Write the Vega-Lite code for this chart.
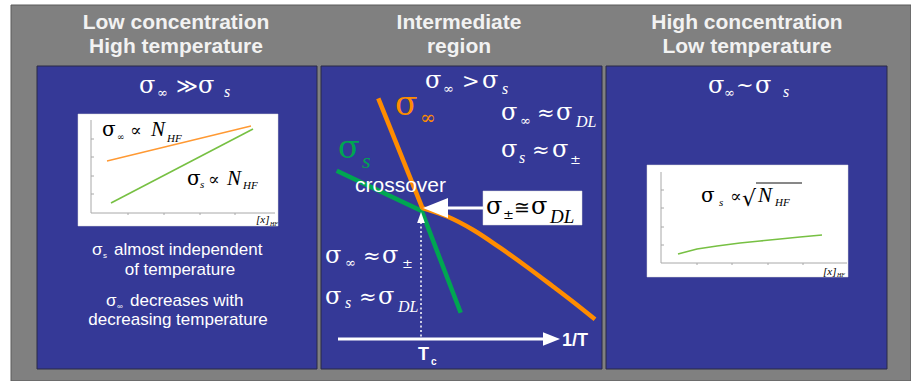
{
 "$schema": "https://vega.github.io/schema/vega-lite/v6.json",
 "width": 911, "height": 381, "padding": 0, "autosize": {"type": "none"},
 "background": "#ffffff",
 "config": {"view": {"stroke": null}},
 "datasets": {
  "boxes": [
   {"id": "frame", "x": 11, "y": 5, "x2": 911, "y2": 381},
   {"id": "panel", "x": 37, "y": 66, "x2": 317, "y2": 369},
   {"id": "panel", "x": 321, "y": 66, "x2": 602, "y2": 369},
   {"id": "panel", "x": 606, "y": 66, "x2": 887, "y2": 369},
   {"id": "white", "x": 78, "y": 114, "x2": 278, "y2": 226},
   {"id": "white", "x": 647, "y": 165, "x2": 848, "y2": 277},
   {"id": "white", "x": 483, "y": 191, "x2": 582, "y2": 225}
  ],
  "segs": [
   {"k": "ax", "x": 91, "y": 120, "x2": 91, "y2": 213},
   {"k": "ax", "x": 91, "y": 213, "x2": 275, "y2": 213},
   {"k": "ax", "x": 661, "y": 172, "x2": 661, "y2": 263},
   {"k": "ax", "x": 661, "y": 263, "x2": 847, "y2": 263},
   {"k": "ax", "x": 91, "y": 139, "x2": 94, "y2": 139},
   {"k": "ax", "x": 91, "y": 157, "x2": 94, "y2": 157},
   {"k": "ax", "x": 91, "y": 176, "x2": 94, "y2": 176},
   {"k": "ax", "x": 91, "y": 194, "x2": 94, "y2": 194},
   {"k": "ax", "x": 128, "y": 213, "x2": 128, "y2": 215},
   {"k": "ax", "x": 164, "y": 213, "x2": 164, "y2": 215},
   {"k": "ax", "x": 200, "y": 213, "x2": 200, "y2": 215},
   {"k": "ax", "x": 235, "y": 213, "x2": 235, "y2": 215},
   {"k": "ax", "x": 661, "y": 190, "x2": 664, "y2": 190},
   {"k": "ax", "x": 661, "y": 208, "x2": 664, "y2": 208},
   {"k": "ax", "x": 661, "y": 227, "x2": 664, "y2": 227},
   {"k": "ax", "x": 661, "y": 245, "x2": 664, "y2": 245},
   {"k": "ax", "x": 697, "y": 263, "x2": 697, "y2": 265},
   {"k": "ax", "x": 732, "y": 263, "x2": 732, "y2": 265},
   {"k": "ax", "x": 768, "y": 263, "x2": 768, "y2": 265},
   {"k": "ax", "x": 803, "y": 263, "x2": 803, "y2": 265},
   {"k": "shaft", "x": 483, "y": 208, "x2": 445, "y2": 208},
   {"k": "shaft", "x": 338, "y": 339, "x2": 546, "y2": 339},
   {"k": "dot", "x": 421, "y": 222, "x2": 421, "y2": 338},
   {"k": "bar", "x": 756, "y": 183, "x2": 802, "y2": 183}
  ],
  "curves": [
   {"id": "oTop", "o": 0, "x": 378.3, "y": 98.3},
   {"id": "oTop", "o": 1, "x": 422.5, "y": 208.3},
   {"id": "oLow", "o": 0, "x": 421.7, "y": 207.8},
   {"id": "oLow", "o": 1, "x": 446.7, "y": 216.3},
   {"id": "oLow", "o": 2, "x": 473.3, "y": 230},
   {"id": "oLow", "o": 3, "x": 500, "y": 247.7},
   {"id": "oLow", "o": 4, "x": 526.7, "y": 266.7},
   {"id": "oLow", "o": 5, "x": 553.3, "y": 286.7},
   {"id": "oLow", "o": 6, "x": 573.3, "y": 302},
   {"id": "oLow", "o": 7, "x": 595, "y": 319.3},
   {"id": "gMain", "o": 0, "x": 336.7, "y": 170.7},
   {"id": "gMain", "o": 1, "x": 421.7, "y": 211},
   {"id": "gMain", "o": 2, "x": 460.7, "y": 312.7},
   {"id": "oIn", "o": 0, "x": 107, "y": 161},
   {"id": "oIn", "o": 1, "x": 251, "y": 126},
   {"id": "gIn", "o": 0, "x": 111, "y": 203},
   {"id": "gIn", "o": 1, "x": 253, "y": 129},
   {"id": "gR", "o": 0, "x": 678, "y": 254},
   {"id": "gR", "o": 1, "x": 697, "y": 249},
   {"id": "gR", "o": 2, "x": 717, "y": 246},
   {"id": "gR", "o": 3, "x": 740, "y": 243},
   {"id": "gR", "o": 4, "x": 760, "y": 241},
   {"id": "gR", "o": 5, "x": 780, "y": 239},
   {"id": "gR", "o": 6, "x": 800, "y": 237},
   {"id": "gR", "o": 7, "x": 822, "y": 235}
  ],
  "heads": [
   {"id": "L", "x": 423, "y": 208},
   {"id": "U", "x": 421, "y": 212},
   {"id": "R", "x": 560, "y": 339}
  ],
  "texts": [
   {"r": "hdr", "t": "Low concentration", "x": 176, "y": 29},
   {"r": "hdr", "t": "High temperature", "x": 176, "y": 53},
   {"r": "hdr", "t": "Intermediate", "x": 459, "y": 29},
   {"r": "hdr", "t": "region", "x": 459, "y": 53},
   {"r": "hdr", "t": "High concentration", "x": 747, "y": 29},
   {"r": "hdr", "t": "Low temperature", "x": 747, "y": 53},
   {"r": "mW", "t": "σ", "x": 139, "y": 93},
   {"r": "mWs", "t": "≫", "x": 176, "y": 93},
   {"r": "mW", "t": "σ", "x": 198, "y": 93},
   {"r": "mW", "t": "σ", "x": 425, "y": 88},
   {"r": "mWs", "t": ">", "x": 462, "y": 88},
   {"r": "mW", "t": "σ", "x": 482, "y": 88},
   {"r": "mW", "t": "σ", "x": 501, "y": 120},
   {"r": "mWs", "t": "≈", "x": 537, "y": 120},
   {"r": "mW", "t": "σ", "x": 556, "y": 120},
   {"r": "mW", "t": "σ", "x": 501, "y": 157},
   {"r": "mWs", "t": "≈", "x": 532, "y": 157},
   {"r": "mW", "t": "σ", "x": 552, "y": 157},
   {"r": "mW", "t": "σ", "x": 325, "y": 263},
   {"r": "mWs", "t": "≈", "x": 363, "y": 263},
   {"r": "mW", "t": "σ", "x": 382, "y": 263},
   {"r": "mW", "t": "σ", "x": 325, "y": 304},
   {"r": "mWs", "t": "≈", "x": 359, "y": 304},
   {"r": "mW", "t": "σ", "x": 378, "y": 304},
   {"r": "mW", "t": "σ", "x": 708, "y": 93},
   {"r": "mWs", "t": "~", "x": 736, "y": 92},
   {"r": "mW", "t": "σ", "x": 755, "y": 93},
   {"r": "sW", "t": "∞", "x": 724, "y": 97},
   {"r": "sW", "t": "∞", "x": 157, "y": 97},
   {"r": "sW", "t": "∞", "x": 443, "y": 93},
   {"r": "sW", "t": "∞", "x": 520, "y": 125},
   {"r": "sW", "t": "±", "x": 570, "y": 164},
   {"r": "sW", "t": "∞", "x": 345, "y": 267},
   {"r": "sW", "t": "±", "x": 402, "y": 268},
   {"r": "siW", "t": "s", "x": 224, "y": 97},
   {"r": "siW", "t": "s", "x": 502, "y": 94},
   {"r": "siW", "t": "DL", "x": 576, "y": 127},
   {"r": "siW", "t": "s", "x": 519, "y": 163},
   {"r": "siW", "t": "s", "x": 345, "y": 308},
   {"r": "siW", "t": "DL", "x": 398, "y": 312},
   {"r": "siW", "t": "s", "x": 783, "y": 97},
   {"r": "mK", "t": "σ", "x": 486, "y": 214},
   {"r": "mKs", "t": "≅", "x": 514, "y": 214},
   {"r": "mK", "t": "σ", "x": 531, "y": 214},
   {"r": "sK", "t": "±", "x": 503, "y": 219},
   {"r": "siK", "t": "DL", "x": 550, "y": 223},
   {"r": "bO", "t": "σ", "x": 395, "y": 115},
   {"r": "sO", "t": "∞", "x": 420, "y": 124},
   {"r": "bG", "t": "σ", "x": 338, "y": 158},
   {"r": "siG", "t": "s", "x": 362, "y": 168},
   {"r": "cross", "t": "crossover", "x": 355, "y": 192},
   {"r": "ax", "t": "1/T", "x": 562, "y": 346},
   {"r": "ax", "t": "T", "x": 418, "y": 360},
   {"r": "axS", "t": "c", "x": 431, "y": 365},
   {"r": "bodyL", "t": "σ", "x": 92, "y": 255},
   {"r": "bodyL", "t": "almost independent", "x": 114, "y": 255},
   {"r": "bodyL", "t": "σ", "x": 106, "y": 306},
   {"r": "bodyL", "t": "decreases with", "x": 130, "y": 306},
   {"r": "bodyS", "t": "s", "x": 103, "y": 258},
   {"r": "bodyS", "t": "∞", "x": 117, "y": 309},
   {"r": "bodyC", "t": "of temperature", "x": 180, "y": 275},
   {"r": "bodyC", "t": "decreasing temperature", "x": 178, "y": 325},
   {"r": "iM", "t": "σ", "x": 102, "y": 136},
   {"r": "iMs", "t": "∝", "x": 130, "y": 136},
   {"r": "iM", "t": "σ", "x": 187, "y": 185},
   {"r": "iMs", "t": "∝", "x": 208, "y": 185},
   {"r": "iM", "t": "σ", "x": 701, "y": 202},
   {"r": "iMs", "t": "∝", "x": 730, "y": 202},
   {"r": "iN", "t": "N", "x": 151, "y": 136},
   {"r": "iN", "t": "N", "x": 227, "y": 185},
   {"r": "iN", "t": "N", "x": 758, "y": 202},
   {"r": "iS", "t": "∞", "x": 117, "y": 140},
   {"r": "iSi", "t": "HF", "x": 167, "y": 142},
   {"r": "iSi", "t": "s", "x": 200, "y": 188},
   {"r": "iSi", "t": "HF", "x": 243, "y": 189},
   {"r": "iSi", "t": "s", "x": 719, "y": 206},
   {"r": "iSi", "t": "HF", "x": 775, "y": 206},
   {"r": "iRt", "t": "√", "x": 742, "y": 206},
   {"r": "iX", "t": "[x]", "x": 256, "y": 223},
   {"r": "iX", "t": "[x]", "x": 823, "y": 275},
   {"r": "iXs", "t": "HF", "x": 270, "y": 226},
   {"r": "iXs", "t": "HF", "x": 837, "y": 277}
  ]
 },
 "encoding": {
  "x": {"field": "x", "type": "quantitative", "scale": {"domain": [0, 911], "nice": false, "zero": false}, "axis": null},
  "y": {"field": "y", "type": "quantitative", "scale": {"domain": [0, 381], "nice": false, "zero": false, "reverse": true}, "axis": null}
 },
 "layer": [
  {"data": {"name": "boxes"}, "transform": [{"filter": "datum.id == 'frame'"}],
   "mark": {"type": "rect", "fill": "#808080", "stroke": "#5a5a5a", "strokeWidth": 1},
   "encoding": {"x2": {"field": "x2"}, "y2": {"field": "y2"}}},
  {"data": {"name": "boxes"}, "transform": [{"filter": "datum.id == 'panel'"}],
   "mark": {"type": "rect", "fill": "#353997", "stroke": "#2b2b45", "strokeWidth": 1},
   "encoding": {"x2": {"field": "x2"}, "y2": {"field": "y2"}}},
  {"data": {"name": "boxes"}, "transform": [{"filter": "datum.id == 'white'"}],
   "mark": {"type": "rect", "fill": "#ffffff", "stroke": "#d8d8d8", "strokeWidth": 0.5},
   "encoding": {"x2": {"field": "x2"}, "y2": {"field": "y2"}}},
  {"data": {"name": "segs"}, "transform": [{"filter": "datum.k == 'ax'"}],
   "mark": {"type": "rule", "color": "#a8a8a8", "strokeWidth": 1},
   "encoding": {"x2": {"field": "x2"}, "y2": {"field": "y2"}}},
  {"data": {"name": "segs"}, "transform": [{"filter": "datum.k == 'bar'"}],
   "mark": {"type": "rule", "color": "#111111", "strokeWidth": 1},
   "encoding": {"x2": {"field": "x2"}, "y2": {"field": "y2"}}},
  {"data": {"name": "curves"}, "transform": [{"filter": "datum.id == 'oIn'"}],
   "mark": {"type": "line", "color": "#ff9933", "strokeWidth": 1.3},
   "encoding": {"order": {"field": "o"}}},
  {"data": {"name": "curves"}, "transform": [{"filter": "datum.id == 'gIn' || datum.id == 'gR'"}],
   "mark": {"type": "line", "color": "#77c043", "strokeWidth": 1.6},
   "encoding": {"order": {"field": "o"}, "detail": {"field": "id"}}},
  {"data": {"name": "curves"}, "transform": [{"filter": "datum.id == 'gMain'"}],
   "mark": {"type": "line", "color": "#00a651", "strokeWidth": 4.5, "strokeCap": "butt"},
   "encoding": {"order": {"field": "o"}}},
  {"data": {"name": "curves"}, "transform": [{"filter": "datum.id == 'oTop'"}],
   "mark": {"type": "line", "color": "#ff8c00", "strokeWidth": 4.5, "strokeCap": "butt"},
   "encoding": {"order": {"field": "o"}}},
  {"data": {"name": "curves"}, "transform": [{"filter": "datum.id == 'oLow'"}],
   "mark": {"type": "line", "color": "#ff8c00", "strokeWidth": 4.5, "strokeCap": "butt", "interpolate": "monotone"},
   "encoding": {"order": {"field": "o"}}},
  {"data": {"name": "segs"}, "transform": [{"filter": "datum.k == 'shaft'"}],
   "mark": {"type": "rule", "color": "#ffffff", "strokeWidth": 3},
   "encoding": {"x2": {"field": "x2"}, "y2": {"field": "y2"}}},
  {"data": {"name": "segs"}, "transform": [{"filter": "datum.k == 'dot'"}],
   "mark": {"type": "rule", "color": "#ffffff", "strokeWidth": 1.5, "strokeDash": [2, 2.5]},
   "encoding": {"x2": {"field": "x2"}, "y2": {"field": "y2"}}},
  {"data": {"name": "heads"}, "transform": [{"filter": "datum.id == 'L'"}],
   "mark": {"type": "point", "shape": "M0,0L2,-0.8L2,0.8Z", "size": 625, "filled": true, "color": "#ffffff", "opacity": 1, "strokeWidth": 0}},
  {"data": {"name": "heads"}, "transform": [{"filter": "datum.id == 'U'"}],
   "mark": {"type": "point", "shape": "M0,0L-0.7,2L0.7,2Z", "size": 121, "filled": true, "color": "#ffffff", "opacity": 1, "strokeWidth": 0}},
  {"data": {"name": "heads"}, "transform": [{"filter": "datum.id == 'R'"}],
   "mark": {"type": "point", "shape": "M0,0L-2,-0.8L-2,0.8Z", "size": 289, "filled": true, "color": "#ffffff", "opacity": 1, "strokeWidth": 0}},
  {"data": {"name": "texts"}, "transform": [{"filter": "datum.r == 'hdr'"}],
   "mark": {"type": "text", "font": "Liberation Sans", "fontSize": 21, "fontWeight": "bold", "color": "#f2f2f2", "align": "center", "baseline": "alphabetic"},
   "encoding": {"text": {"field": "t"}}},
  {"data": {"name": "texts"}, "transform": [{"filter": "datum.r == 'mW'"}],
   "mark": {"type": "text", "font": "DejaVu Serif", "fontSize": 24, "color": "#ffffff", "align": "left", "baseline": "alphabetic"},
   "encoding": {"text": {"field": "t"}}},
  {"data": {"name": "texts"}, "transform": [{"filter": "datum.r == 'mWs'"}],
   "mark": {"type": "text", "font": "DejaVu Serif", "fontSize": 21, "color": "#ffffff", "align": "left", "baseline": "alphabetic"},
   "encoding": {"text": {"field": "t"}}},
  {"data": {"name": "texts"}, "transform": [{"filter": "datum.r == 'sW'"}],
   "mark": {"type": "text", "font": "DejaVu Serif", "fontSize": 13, "color": "#ffffff", "align": "left", "baseline": "alphabetic"},
   "encoding": {"text": {"field": "t"}}},
  {"data": {"name": "texts"}, "transform": [{"filter": "datum.r == 'siW'"}],
   "mark": {"type": "text", "font": "Liberation Serif", "fontSize": 16, "fontStyle": "italic", "color": "#ffffff", "align": "left", "baseline": "alphabetic"},
   "encoding": {"text": {"field": "t"}}},
  {"data": {"name": "texts"}, "transform": [{"filter": "datum.r == 'mK'"}],
   "mark": {"type": "text", "font": "DejaVu Serif", "fontSize": 24, "color": "#000000", "align": "left", "baseline": "alphabetic"},
   "encoding": {"text": {"field": "t"}}},
  {"data": {"name": "texts"}, "transform": [{"filter": "datum.r == 'mKs'"}],
   "mark": {"type": "text", "font": "DejaVu Serif", "fontSize": 19, "color": "#000000", "align": "left", "baseline": "alphabetic"},
   "encoding": {"text": {"field": "t"}}},
  {"data": {"name": "texts"}, "transform": [{"filter": "datum.r == 'sK'"}],
   "mark": {"type": "text", "font": "DejaVu Serif", "fontSize": 13, "color": "#000000", "align": "left", "baseline": "alphabetic"},
   "encoding": {"text": {"field": "t"}}},
  {"data": {"name": "texts"}, "transform": [{"filter": "datum.r == 'siK'"}],
   "mark": {"type": "text", "font": "Liberation Serif", "fontSize": 19, "fontStyle": "italic", "color": "#000000", "align": "left", "baseline": "alphabetic"},
   "encoding": {"text": {"field": "t"}}},
  {"data": {"name": "texts"}, "transform": [{"filter": "datum.r == 'bO'"}],
   "mark": {"type": "text", "font": "DejaVu Serif", "fontSize": 33, "color": "#ff8c00", "align": "left", "baseline": "alphabetic"},
   "encoding": {"text": {"field": "t"}}},
  {"data": {"name": "texts"}, "transform": [{"filter": "datum.r == 'sO'"}],
   "mark": {"type": "text", "font": "DejaVu Serif", "fontSize": 19, "color": "#ff8c00", "align": "left", "baseline": "alphabetic"},
   "encoding": {"text": {"field": "t"}}},
  {"data": {"name": "texts"}, "transform": [{"filter": "datum.r == 'bG'"}],
   "mark": {"type": "text", "font": "DejaVu Serif", "fontSize": 32, "color": "#00a651", "align": "left", "baseline": "alphabetic"},
   "encoding": {"text": {"field": "t"}}},
  {"data": {"name": "texts"}, "transform": [{"filter": "datum.r == 'siG'"}],
   "mark": {"type": "text", "font": "Liberation Serif", "fontSize": 22, "fontStyle": "italic", "color": "#00a651", "align": "left", "baseline": "alphabetic"},
   "encoding": {"text": {"field": "t"}}},
  {"data": {"name": "texts"}, "transform": [{"filter": "datum.r == 'cross'"}],
   "mark": {"type": "text", "font": "Liberation Sans", "fontSize": 21, "color": "#ffffff", "align": "left", "baseline": "alphabetic"},
   "encoding": {"text": {"field": "t"}}},
  {"data": {"name": "texts"}, "transform": [{"filter": "datum.r == 'ax'"}],
   "mark": {"type": "text", "font": "Liberation Sans", "fontSize": 18, "fontWeight": "bold", "color": "#ffffff", "align": "left", "baseline": "alphabetic"},
   "encoding": {"text": {"field": "t"}}},
  {"data": {"name": "texts"}, "transform": [{"filter": "datum.r == 'axS'"}],
   "mark": {"type": "text", "font": "Liberation Sans", "fontSize": 10, "fontWeight": "bold", "color": "#ffffff", "align": "left", "baseline": "alphabetic"},
   "encoding": {"text": {"field": "t"}}},
  {"data": {"name": "texts"}, "transform": [{"filter": "datum.r == 'bodyL'"}],
   "mark": {"type": "text", "font": "Liberation Sans", "fontSize": 17, "color": "#ffffff", "align": "left", "baseline": "alphabetic"},
   "encoding": {"text": {"field": "t"}}},
  {"data": {"name": "texts"}, "transform": [{"filter": "datum.r == 'bodyS'"}],
   "mark": {"type": "text", "font": "Liberation Sans", "fontSize": 8, "color": "#ffffff", "align": "left", "baseline": "alphabetic"},
   "encoding": {"text": {"field": "t"}}},
  {"data": {"name": "texts"}, "transform": [{"filter": "datum.r == 'bodyC'"}],
   "mark": {"type": "text", "font": "Liberation Sans", "fontSize": 17, "color": "#ffffff", "align": "center", "baseline": "alphabetic"},
   "encoding": {"text": {"field": "t"}}},
  {"data": {"name": "texts"}, "transform": [{"filter": "datum.r == 'iM'"}],
   "mark": {"type": "text", "font": "DejaVu Serif", "fontSize": 20, "color": "#000000", "align": "left", "baseline": "alphabetic"},
   "encoding": {"text": {"field": "t"}}},
  {"data": {"name": "texts"}, "transform": [{"filter": "datum.r == 'iMs'"}],
   "mark": {"type": "text", "font": "DejaVu Serif", "fontSize": 17, "color": "#000000", "align": "left", "baseline": "alphabetic"},
   "encoding": {"text": {"field": "t"}}},
  {"data": {"name": "texts"}, "transform": [{"filter": "datum.r == 'iN'"}],
   "mark": {"type": "text", "font": "Liberation Serif", "fontSize": 21, "fontStyle": "italic", "color": "#000000", "align": "left", "baseline": "alphabetic"},
   "encoding": {"text": {"field": "t"}}},
  {"data": {"name": "texts"}, "transform": [{"filter": "datum.r == 'iS'"}],
   "mark": {"type": "text", "font": "DejaVu Serif", "fontSize": 9, "color": "#000000", "align": "left", "baseline": "alphabetic"},
   "encoding": {"text": {"field": "t"}}},
  {"data": {"name": "texts"}, "transform": [{"filter": "datum.r == 'iSi'"}],
   "mark": {"type": "text", "font": "Liberation Serif", "fontSize": 11, "fontStyle": "italic", "color": "#000000", "align": "left", "baseline": "alphabetic"},
   "encoding": {"text": {"field": "t"}}},
  {"data": {"name": "texts"}, "transform": [{"filter": "datum.r == 'iRt'"}],
   "mark": {"type": "text", "font": "DejaVu Serif", "fontSize": 22, "color": "#000000", "align": "left", "baseline": "alphabetic"},
   "encoding": {"text": {"field": "t"}}},
  {"data": {"name": "texts"}, "transform": [{"filter": "datum.r == 'iX'"}],
   "mark": {"type": "text", "font": "Liberation Serif", "fontSize": 11, "fontStyle": "italic", "color": "#000000", "align": "left", "baseline": "alphabetic"},
   "encoding": {"text": {"field": "t"}}},
  {"data": {"name": "texts"}, "transform": [{"filter": "datum.r == 'iXs'"}],
   "mark": {"type": "text", "font": "Liberation Serif", "fontSize": 6, "fontStyle": "italic", "color": "#000000", "align": "left", "baseline": "alphabetic"},
   "encoding": {"text": {"field": "t"}}}
 ]
}
